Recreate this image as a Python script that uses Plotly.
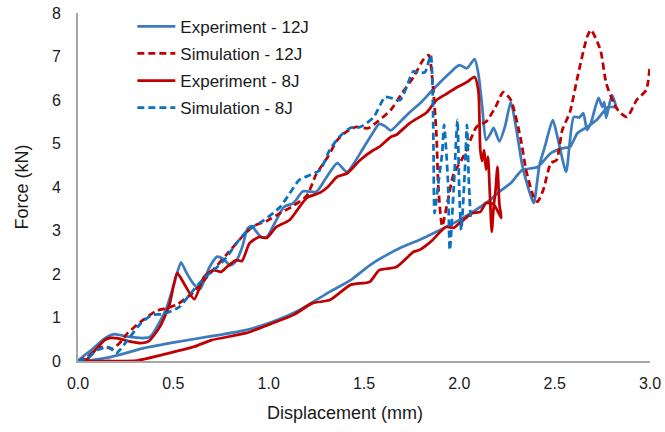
import plotly.graph_objects as go

# ---- data (displacement mm, force kN) ----
exp12_x = [0, 0.07, 0.14, 0.19, 0.26, 0.35, 0.38, 0.46, 0.51, 0.54, 0.57, 0.61, 0.64, 0.69, 0.73, 0.76, 0.80, 0.83,
           0.86, 0.89, 0.91, 0.96, 0.99, 1.04, 1.08, 1.13, 1.18, 1.25, 1.30, 1.36, 1.41, 1.50, 1.54, 1.58, 1.61, 1.64,
           1.69, 1.74, 1.80, 1.86, 1.95, 2.00, 2.04, 2.08, 2.10, 2.12, 2.14, 2.16, 2.18, 2.21, 2.24, 2.27, 2.30, 2.33,
           2.36, 2.39, 2.42, 2.45, 2.49, 2.52, 2.56, 2.60, 2.63, 2.65, 2.67, 2.69, 2.73, 2.75, 2.76, 2.77, 2.80, 2.82,
           2.78, 2.72, 2.67, 2.62, 2.58, 2.55, 2.48, 2.41, 2.33, 2.27, 2.21, 2.16, 2.06, 1.97, 1.88, 1.79, 1.70, 1.62,
           1.53, 1.43, 1.32, 1.16, 1.02, 0.88, 0.70, 0.52, 0.35, 0.17, 0]
exp12_y = [0, 0.25, 0.52, 0.62, 0.56, 0.53, 0.56, 1.17, 1.86, 2.27, 2.02, 1.75, 1.65, 2.16, 2.40, 2.35, 2.20, 2.30,
           2.60, 3.05, 3.10, 2.85, 2.85, 3.24, 3.54, 3.63, 3.90, 3.89, 4.20, 4.55, 4.35, 4.92, 5.20, 5.45, 5.40, 5.30,
           5.50, 5.72, 5.95, 6.23, 6.62, 6.80, 6.73, 6.94, 6.60, 5.84, 5.08, 5.20, 5.36, 5.05, 5.40, 5.95, 5.30, 4.50,
           4.00, 3.63, 4.50, 4.95, 5.54, 5.05, 4.35, 5.61, 5.60, 5.70, 5.31, 5.47, 6.05, 5.84, 5.95, 5.59, 6.11, 5.84,
           5.84, 5.54, 5.38, 5.24, 4.92, 4.90, 4.78, 4.46, 4.39, 4.09, 3.89, 3.70, 3.40, 3.17, 2.97, 2.78, 2.62, 2.44,
           2.20, 1.86, 1.59, 1.17, 0.90, 0.71, 0.57, 0.44, 0.30, 0.09, 0]

sim12_x = [0, 0.05, 0.10, 0.14, 0.18, 0.22, 0.26, 0.34, 0.41, 0.47, 0.52, 0.60, 0.68, 0.78, 0.87, 0.92, 0.99, 1.06,
           1.13, 1.20, 1.25, 1.31, 1.36, 1.41, 1.46, 1.52, 1.57, 1.64, 1.70, 1.76, 1.81, 1.84, 1.86, 1.88, 1.89, 1.91,
           1.94, 1.97, 2.02, 2.06, 2.09, 2.14, 2.19, 2.23, 2.27, 2.32, 2.35, 2.39, 2.41, 2.44, 2.48, 2.51, 2.54, 2.58,
           2.62, 2.67, 2.69, 2.74, 2.77, 2.81, 2.84, 2.88, 2.93, 2.98, 3.00]
sim12_y = [0, 0.10, 0.28, 0.33, 0.28, 0.42, 0.64, 0.94, 1.15, 1.22, 1.30, 1.56, 1.95, 2.45, 2.90, 3.10, 3.22, 3.40,
           3.57, 3.80, 4.30, 4.69, 5.08, 5.28, 5.38, 5.35, 5.50, 5.77, 6.16, 6.53, 6.92, 7.03, 6.40, 5.20, 4.00, 3.10,
           3.70, 4.30, 4.69, 5.10, 5.38, 5.50, 5.84, 6.18, 6.00, 5.15, 4.39, 3.77, 3.66, 3.93, 4.55, 4.62, 5.31, 5.72,
           6.53, 7.45, 7.61, 7.15, 6.39, 5.93, 5.72, 5.61, 6.00, 6.23, 6.80]

exp8_x = [0, 0.05, 0.10, 0.14, 0.17, 0.21, 0.27, 0.33, 0.37, 0.43, 0.48, 0.52, 0.56, 0.61, 0.66, 0.71, 0.75, 0.78,
          0.83, 0.86, 0.90, 0.95, 0.99, 1.04, 1.08, 1.11, 1.15, 1.20, 1.27, 1.31, 1.36, 1.41, 1.48, 1.55, 1.58, 1.64,
          1.67, 1.74, 1.83, 1.88, 1.94, 1.99, 2.04, 2.08, 2.10, 2.11, 2.12, 2.13, 2.14, 2.15, 2.16, 2.17, 2.18, 2.19,
          2.20, 2.21, 2.22, 2.18, 2.14, 2.11, 2.07, 2.04, 2.00, 1.97, 1.93, 1.90, 1.86, 1.83, 1.79, 1.76, 1.67, 1.58,
          1.53, 1.43, 1.32, 1.23, 1.13, 1.01, 0.88, 0.70, 0.61, 0.44, 0.31, 0.15, 0]
exp8_y = [0, 0.05, 0.30, 0.48, 0.53, 0.52, 0.45, 0.41, 0.45, 0.79, 1.30, 2.02, 1.75, 1.42, 1.93, 2.09, 2.05, 2.16,
          2.32, 2.30, 2.71, 2.85, 2.83, 3.08, 3.17, 3.24, 3.47, 3.75, 3.87, 4.00, 4.24, 4.31, 4.62, 4.85, 4.92, 5.15,
          5.20, 5.47, 5.72, 6.00, 6.16, 6.30, 6.41, 6.53, 6.20, 4.85, 4.60, 4.85, 4.40, 4.70, 3.86, 2.97, 3.54, 3.93,
          4.46, 3.60, 3.29, 3.60, 3.63, 3.43, 3.40, 3.31, 3.17, 3.06, 3.08, 2.97, 2.78, 2.67, 2.55, 2.51, 2.16, 2.09,
          1.82, 1.75, 1.40, 1.33, 1.06, 0.85, 0.64, 0.48, 0.33, 0.14, 0.01, 0, 0]

sim8_x = [0, 0.05, 0.10, 0.15, 0.17, 0.20, 0.26, 0.33, 0.39, 0.45, 0.53, 0.60, 0.66, 0.73, 0.78, 0.83, 0.89, 0.97,
          1.06, 1.11, 1.16, 1.22, 1.27, 1.32, 1.37, 1.43, 1.48, 1.55, 1.61, 1.64, 1.69, 1.76, 1.79, 1.82, 1.85, 1.86,
          1.865, 1.87, 1.89, 1.91, 1.92, 1.94, 1.95, 1.97, 1.99, 2.00, 2.01, 2.03, 2.04, 2.05, 2.06]
sim8_y = [0, 0.07, 0.25, 0.32, 0.30, 0.18, 0.48, 0.87, 1.06, 1.08, 1.24, 1.60, 1.90, 2.16, 2.39, 2.70, 3.01, 3.22,
          3.54, 3.85, 4.16, 4.28, 4.39, 4.85, 5.15, 5.36, 5.38, 5.60, 6.07, 6.05, 6.00, 6.66, 6.62, 6.64, 7.03, 6.20,
          4.70, 3.40, 4.09, 4.78, 5.43, 4.16, 2.55, 3.93, 5.54, 3.86, 3.01, 4.46, 5.43, 4.09, 3.24]

series_names = ["Experiment - 12J", "Simulation - 12J", "Experiment - 8J", "Simulation - 8J"]
x_ticks = [0, 0.5, 1.0, 1.5, 2.0, 2.5, 3.0]
y_ticks = [0, 1, 2, 3, 4, 5, 6, 7, 8]
x_title = "Displacement (mm)"
y_title = "Force (kN)"

BLUE = "#3C7CBE"
BLUE2 = "#0A70C0"
RED = "#C00000"
DASH = "7px,4px"

fig = go.Figure()
styles = [
    (exp12_x, exp12_y, dict(color=BLUE, width=2.75)),
    (sim12_x, sim12_y, dict(color=RED, width=2.75, dash=DASH)),
    (exp8_x, exp8_y, dict(color=RED, width=2.75)),
    (sim8_x, sim8_y, dict(color=BLUE2, width=2.75, dash=DASH)),
]
for i, (name, (xs, ys, ln)) in enumerate(zip(series_names, styles)):
    fig.add_trace(go.Scatter(x=xs, y=ys, mode="lines", name=name, legendgroup=f"g{i}",
                             line=dict(shape="spline", smoothing=0.6, **ln)))

font = "Liberation Sans, Arial, sans-serif"
fig.update_layout(
    width=665, height=432,
    margin=dict(l=78, r=15, t=13, b=71, autoexpand=False),
    paper_bgcolor="white", plot_bgcolor="white",
    font=dict(family=font, size=16, color="#1a1a1a"),
    showlegend=True,
    legend=dict(x=0.095, y=1.012, xanchor="left", yanchor="top",
                font=dict(size=17, color="#1a1a1a"), bgcolor="rgba(0,0,0,0)",
                tracegroupgap=2, itemwidth=38),
    xaxis=dict(range=[0, 3.0], tickvals=x_ticks, tickformat=".1f", showgrid=False, zeroline=False,
               showline=True, linecolor="#A6A6A6", linewidth=2, ticks="", automargin=False,
               ticklabelstandoff=7, tickfont=dict(size=16)),
    yaxis=dict(range=[0, 8], tickvals=y_ticks, showgrid=False, zeroline=False,
               showline=True, linecolor="#A6A6A6", linewidth=2, ticks="", automargin=False,
               ticklabelstandoff=12,
               title=dict(text=y_title, font=dict(size=18), standoff=19),
               tickfont=dict(size=16)),
    annotations=[dict(text=x_title, xref="paper", yref="paper", x=0.466, y=-0.149,
                      xanchor="center", yanchor="middle", showarrow=False,
                      font=dict(size=18, color="#1a1a1a"))],
)
fig.write_html("out.html")
